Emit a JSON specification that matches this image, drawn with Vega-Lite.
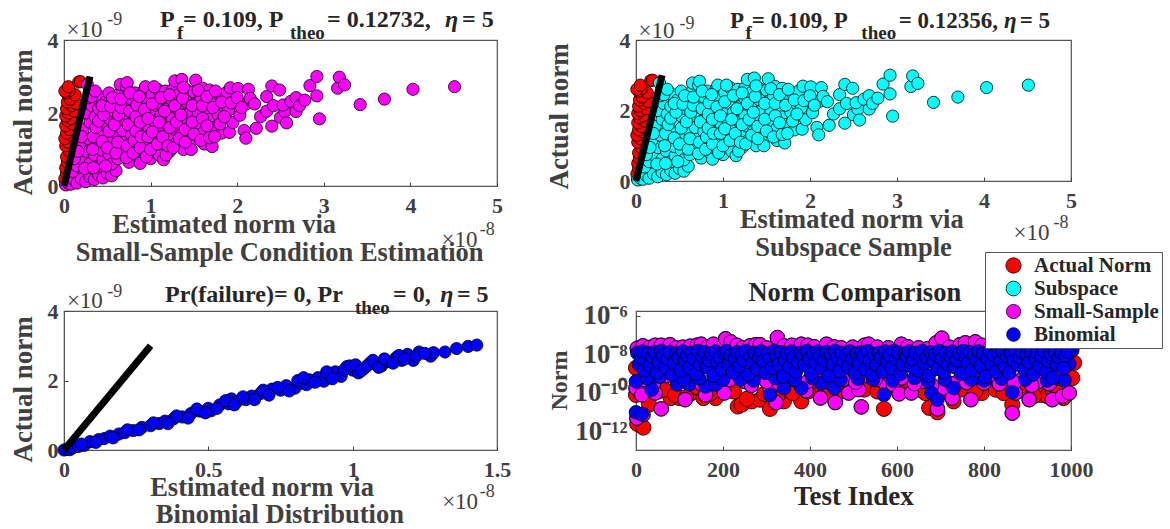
{"$schema":"https://vega.github.io/schema/vega-lite/v6.json","autosize":"none","padding":{"left":64,"top":40,"right":1106,"bottom":489},"background":"white",
"config":{"view":{"stroke":"#555555","strokeWidth":1.2},"axis":{"grid":false,"labelFont":"Liberation Serif","labelFontWeight":"bold","labelFontSize":22,"labelColor":"#404040","tickColor":"#404040","tickSize":-4,"labelFlush":false,"domainColor":"#555555","titleFont":"Liberation Serif","titleFontWeight":"bold","titleFontSize":27,"titleColor":"#404040","labelOverlap":false},"axisX":{"labelPadding":13},"axisY":{"labelPadding":10,"titleAlign":"center"},"text":{"font":"Liberation Serif","fontWeight":"bold","align":"left","baseline":"middle","fontSize":24,"color":"#262626"},"point":{"filled":true,"opacity":1}},
"datasets":{
"red":[{"x":0.02,"y":0.05},{"x":0.01,"y":0.2},{"x":0.03,"y":0.35},{"x":0.02,"y":0.5},{"x":0.04,"y":0.65},{"x":0.03,"y":0.8},{"x":0.06,"y":0.95},{"x":0.02,"y":1.1},{"x":0.05,"y":1.2},{"x":0.01,"y":1.3},{"x":0.08,"y":1.4},{"x":0.03,"y":1.45},{"x":0.06,"y":1.55},{"x":0.02,"y":1.65},{"x":0.1,"y":1.7},{"x":0.04,"y":1.8},{"x":0.08,"y":1.85},{"x":0.02,"y":1.92},{"x":0.05,"y":2.0},{"x":0.12,"y":2.05},{"x":0.03,"y":2.12},{"x":0.09,"y":2.2},{"x":0.14,"y":2.26},{"x":0.04,"y":2.3},{"x":0.07,"y":2.38},{"x":0.13,"y":2.5},{"x":0.03,"y":2.55},{"x":0.06,"y":2.62},{"x":0.01,"y":2.6},{"x":0.05,"y":2.72},{"x":0.17,"y":2.85},{"x":0.19,"y":2.86}],
"small":[{"x":0.02,"y":0.03},{"x":0.05,"y":0.08},{"x":0.08,"y":0.05},{"x":0.12,"y":0.15},{"x":0.15,"y":0.08},{"x":0.2,"y":0.2},{"x":0.25,"y":0.12},{"x":0.3,"y":0.25},{"x":0.35,"y":0.18},{"x":0.4,"y":0.3},{"x":0.45,"y":0.22},{"x":0.5,"y":0.35},{"x":0.55,"y":0.28},{"x":0.6,"y":0.42},{"x":0.1,"y":0.4},{"x":0.15,"y":0.55},{"x":0.2,"y":0.75},{"x":0.25,"y":0.95},{"x":0.3,"y":0.62},{"x":0.35,"y":0.85},{"x":0.4,"y":0.55},{"x":0.45,"y":0.72},{"x":0.18,"y":1.15},{"x":0.28,"y":1.3},{"x":0.22,"y":1.55},{"x":0.3,"y":1.75},{"x":0.25,"y":2.0},{"x":0.32,"y":2.2},{"x":0.28,"y":2.42},{"x":0.3,"y":2.6},{"x":0.27,"y":2.78},{"x":0.38,"y":1.1},{"x":0.42,"y":1.45},{"x":0.36,"y":1.9},{"x":0.4,"y":2.12},{"x":0.42,"y":2.45},{"x":0.44,"y":0.98},{"x":0.5,"y":1.25},{"x":0.52,"y":0.88},{"x":0.47,"y":1.68},{"x":0.52,"y":1.85},{"x":0.48,"y":2.3},{"x":0.52,"y":2.55},{"x":0.55,"y":0.6},{"x":0.58,"y":1.05},{"x":0.6,"y":1.45},{"x":0.57,"y":2.05},{"x":0.6,"y":2.32},{"x":0.62,"y":0.75},{"x":0.65,"y":1.7},{"x":0.63,"y":2.5},{"x":0.65,"y":2.78},{"x":0.68,"y":0.95},{"x":0.7,"y":1.25},{"x":0.68,"y":1.52},{"x":0.72,"y":1.95},{"x":0.7,"y":2.2},{"x":0.72,"y":2.72},{"x":0.73,"y":2.83},{"x":0.75,"y":0.65},{"x":0.78,"y":1.05},{"x":0.78,"y":1.4},{"x":0.8,"y":1.78},{"x":0.78,"y":2.38},{"x":0.82,"y":2.55},{"x":0.84,"y":0.82},{"x":0.85,"y":1.2},{"x":0.85,"y":1.6},{"x":0.87,"y":2.05},{"x":0.88,"y":0.62},{"x":0.9,"y":2.3},{"x":0.92,"y":0.95},{"x":0.93,"y":1.4},{"x":0.92,"y":1.78},{"x":0.92,"y":2.6},{"x":0.94,"y":2.72},{"x":0.95,"y":2.35},{"x":0.97,"y":1.15},{"x":0.98,"y":1.6},{"x":1.0,"y":2.0},{"x":1.0,"y":0.75},{"x":1.02,"y":2.5},{"x":1.05,"y":1.0},{"x":1.05,"y":1.3},{"x":1.05,"y":1.75},{"x":1.07,"y":2.2},{"x":1.08,"y":2.65},{"x":1.1,"y":1.5},{"x":1.1,"y":0.85},{"x":1.12,"y":1.95},{"x":1.15,"y":1.15},{"x":1.15,"y":0.72},{"x":1.15,"y":2.4},{"x":1.17,"y":2.6},{"x":1.18,"y":1.7},{"x":1.2,"y":1.38},{"x":1.2,"y":2.12},{"x":1.22,"y":0.95},{"x":1.25,"y":1.85},{"x":1.25,"y":2.35},{"x":1.25,"y":2.63},{"x":1.28,"y":1.55},{"x":1.28,"y":2.88},{"x":1.3,"y":1.18},{"x":1.32,"y":2.1},{"x":1.32,"y":2.5},{"x":1.36,"y":2.92},{"x":1.35,"y":1.4},{"x":1.38,"y":1.78},{"x":1.38,"y":1.0},{"x":1.42,"y":2.3},{"x":1.42,"y":2.62},{"x":1.45,"y":1.55},{"x":1.45,"y":2.0},{"x":1.47,"y":1.25},{"x":1.47,"y":1.0},{"x":1.5,"y":2.58},{"x":1.52,"y":2.9},{"x":1.52,"y":2.25},{"x":1.55,"y":1.72},{"x":1.55,"y":1.35},{"x":1.55,"y":1.95},{"x":1.58,"y":2.4},{"x":1.6,"y":2.68},{"x":1.62,"y":1.5},{"x":1.62,"y":1.15},{"x":1.65,"y":2.1},{"x":1.68,"y":2.63},{"x":1.68,"y":1.82},{"x":1.7,"y":2.35},{"x":1.71,"y":1.08},{"x":1.74,"y":1.61},{"x":1.78,"y":1.95},{"x":1.8,"y":2.48},{"x":1.82,"y":1.45},{"x":1.85,"y":2.18},{"x":1.87,"y":2.55},{"x":1.9,"y":2.08},{"x":1.92,"y":2.69},{"x":1.91,"y":1.47},{"x":1.95,"y":1.74},{"x":2.01,"y":2.67},{"x":2.03,"y":1.94},{"x":2.08,"y":1.52},{"x":2.1,"y":1.31},{"x":2.11,"y":2.26},{"x":2.13,"y":2.65},{"x":2.15,"y":2.4},{"x":2.22,"y":1.58},{"x":2.2,"y":2.25},{"x":2.27,"y":1.9},{"x":2.34,"y":2.05},{"x":2.34,"y":2.45},{"x":2.4,"y":2.74},{"x":2.4,"y":1.64},{"x":2.42,"y":2.2},{"x":2.49,"y":2.63},{"x":2.5,"y":1.88},{"x":2.55,"y":2.04},{"x":2.53,"y":2.22},{"x":2.57,"y":1.73},{"x":2.62,"y":2.32},{"x":2.68,"y":2.42},{"x":2.68,"y":2.04},{"x":2.72,"y":2.2},{"x":2.78,"y":2.35},{"x":2.84,"y":2.75},{"x":2.92,"y":2.47},{"x":2.92,"y":3.0},{"x":2.95,"y":1.84},{"x":3.16,"y":2.68},{"x":3.18,"y":2.98},{"x":3.24,"y":2.77},{"x":3.42,"y":2.23},{"x":3.7,"y":2.38},{"x":4.03,"y":2.65},{"x":4.51,"y":2.72},
{"x":0.12,"y":0.75},{"x":0.16,"y":0.95},{"x":0.24,"y":0.48},{"x":0.34,"y":0.5},{"x":0.2,"y":1.35},{"x":0.33,"y":1.0},{"x":0.34,"y":1.35},{"x":0.37,"y":1.6},{"x":0.32,"y":2.45},{"x":0.36,"y":2.6},{"x":0.4,"y":1.78},{"x":0.44,"y":1.22},{"x":0.46,"y":1.95},{"x":0.44,"y":2.2},{"x":0.48,"y":0.55},{"x":0.52,"y":1.5},{"x":0.5,"y":1.05},{"x":0.54,"y":2.18},{"x":0.56,"y":2.42},{"x":0.58,"y":1.68},{"x":0.6,"y":0.9},{"x":0.62,"y":1.2},{"x":0.63,"y":1.95},{"x":0.66,"y":2.15},{"x":0.66,"y":2.38},{"x":0.72,"y":0.78},{"x":0.73,"y":1.1},{"x":0.74,"y":1.68},{"x":0.76,"y":2.05},{"x":0.76,"y":2.55},{"x":0.8,"y":0.9},{"x":0.81,"y":1.25},{"x":0.83,"y":1.5},{"x":0.83,"y":1.9},{"x":0.84,"y":2.22},{"x":0.88,"y":1.05},{"x":0.89,"y":1.35},{"x":0.88,"y":1.75},{"x":0.87,"y":2.45},{"x":0.93,"y":2.1},{"x":0.95,"y":0.8},{"x":0.97,"y":1.35},{"x":0.97,"y":1.85},{"x":1.0,"y":1.0},{"x":1.02,"y":1.48},{"x":1.02,"y":2.25},{"x":1.04,"y":2.72},{"x":1.08,"y":1.15},{"x":1.1,"y":1.75},{"x":1.12,"y":2.42},{"x":1.14,"y":1.35},{"x":1.16,"y":2.05},{"x":1.18,"y":0.85},{"x":1.2,"y":1.1},{"x":1.22,"y":1.6},{"x":1.22,"y":2.5},{"x":1.26,"y":1.05},{"x":1.28,"y":2.2},{"x":1.3,"y":1.75},{"x":1.33,"y":1.3},{"x":1.35,"y":1.95},{"x":1.37,"y":2.4},{"x":1.38,"y":2.7},{"x":1.4,"y":1.2},{"x":1.4,"y":1.55},{"x":1.48,"y":1.75},{"x":1.48,"y":2.2},{"x":1.5,"y":1.42},{"x":1.55,"y":2.62},{"x":1.58,"y":1.25},{"x":1.6,"y":1.85},{"x":1.6,"y":2.2},{"x":1.65,"y":1.65},{"x":1.65,"y":2.45},{"x":1.68,"y":1.32},{"x":1.72,"y":2.15},{"x":1.74,"y":1.35},{"x":1.75,"y":2.6},{"x":1.8,"y":1.7},{"x":1.82,"y":2.3},{"x":1.85,"y":1.9},{"x":1.93,"y":2.28},{"x":2.0,"y":2.42},{"x":2.05,"y":2.15}],
"binom":[{"x":0.0,"y":0.0},{"x":0.01,"y":0.02},{"x":0.02,"y":0.01},{"x":0.03,"y":0.06},{"x":0.05,"y":0.1},{"x":0.07,"y":0.13},{"x":0.09,"y":0.24},{"x":0.12,"y":0.3},{"x":0.14,"y":0.33},{"x":0.16,"y":0.4},{"x":0.19,"y":0.46},{"x":0.21,"y":0.5},{"x":0.24,"y":0.56},{"x":0.27,"y":0.65},{"x":0.3,"y":0.7},{"x":0.33,"y":0.76},{"x":0.35,"y":0.83},{"x":0.38,"y":0.9},{"x":0.41,"y":0.95},{"x":0.44,"y":1.05},{"x":0.47,"y":1.12},{"x":0.5,"y":1.2},{"x":0.51,"y":1.13},{"x":0.54,"y":1.3},{"x":0.57,"y":1.33},{"x":0.58,"y":1.47},{"x":0.6,"y":1.4},{"x":0.63,"y":1.45},{"x":0.65,"y":1.55},{"x":0.68,"y":1.62},{"x":0.7,"y":1.67},{"x":0.72,"y":1.75},{"x":0.75,"y":1.72},{"x":0.77,"y":1.85},{"x":0.8,"y":1.78},{"x":0.82,"y":1.92},{"x":0.84,"y":1.88},{"x":0.85,"y":2.02},{"x":0.88,"y":2.08},{"x":0.9,"y":1.98},{"x":0.92,"y":2.15},{"x":0.94,"y":2.25},{"x":0.96,"y":2.12},{"x":0.98,"y":2.4},{"x":1.0,"y":2.3},{"x":1.02,"y":2.22},{"x":1.04,"y":2.35},{"x":1.06,"y":2.5},{"x":1.08,"y":2.48},{"x":1.1,"y":2.42},{"x":1.12,"y":2.55},{"x":1.15,"y":2.65},{"x":1.17,"y":2.58},{"x":1.19,"y":2.75},{"x":1.21,"y":2.58},{"x":1.23,"y":2.82},{"x":1.27,"y":2.7},{"x":1.28,"y":2.8},{"x":1.32,"y":2.82},{"x":1.36,"y":2.92},{"x":1.4,"y":2.98},{"x":1.43,"y":3.02},
{"x":0.06,"y":0.17},{"x":0.11,"y":0.22},{"x":0.17,"y":0.35},{"x":0.22,"y":0.58},{"x":0.26,"y":0.58},{"x":0.31,"y":0.78},{"x":0.36,"y":0.76},{"x":0.39,"y":0.98},{"x":0.43,"y":0.92},{"x":0.46,"y":1.18},{"x":0.49,"y":1.07},{"x":0.53,"y":1.2},{"x":0.56,"y":1.42},{"x":0.59,"y":1.3},{"x":0.62,"y":1.53},{"x":0.66,"y":1.45},{"x":0.69,"y":1.72},{"x":0.71,"y":1.58},{"x":0.74,"y":1.8},{"x":0.78,"y":1.7},{"x":0.81,"y":2.0},{"x":0.83,"y":2.08},{"x":0.87,"y":1.95},{"x":0.91,"y":2.25},{"x":0.93,"y":2.05},{"x":0.97,"y":2.3},{"x":0.99,"y":2.42},{"x":1.01,"y":2.45},{"x":1.03,"y":2.28},{"x":1.05,"y":2.42},{"x":1.07,"y":2.58},{"x":1.09,"y":2.38},{"x":1.11,"y":2.62},{"x":1.14,"y":2.5},{"x":1.16,"y":2.72},{"x":1.18,"y":2.62},{"x":1.22,"y":2.7},{"x":1.25,"y":2.78}],
"line":[{"x":0,"y":0},{"x":0.3,"y":3}],
"actual":[{"i":0,"v":2e-9},{"i":0,"v":8e-11},{"i":3,"v":2.5e-12},{"i":17,"v":1.6e-12},{"i":30,"v":2.5e-11},{"i":52,"v":1.2e-10},{"i":80,"v":5.5e-11},{"i":100,"v":5.5e-11},{"i":127,"v":1e-10},{"i":155,"v":5.5e-11},{"i":183,"v":5.5e-11},{"i":210,"v":2e-10},{"i":234,"v":2e-11},{"i":243,"v":2.5e-11},{"i":266,"v":3.7e-11},{"i":285,"v":4.5e-11},{"i":308,"v":1.5e-11},{"i":340,"v":3.7e-11},{"i":380,"v":3.7e-11},{"i":410,"v":2e-10},{"i":456,"v":5.5e-11},{"i":500,"v":2e-10},{"i":540,"v":2.8e-10},{"i":570,"v":1.5e-11},{"i":620,"v":2e-10},{"i":650,"v":1.5e-10},{"i":674,"v":1.7e-11},{"i":693,"v":1e-11},{"i":730,"v":3.7e-11},{"i":760,"v":2e-10},{"i":795,"v":1e-10},{"i":827,"v":1.5e-10},{"i":865,"v":2.5e-11},{"i":902,"v":1.5e-10},{"i":930,"v":8e-11},{"i":945,"v":7e-11},{"i":957,"v":1.5e-10},{"i":983,"v":5.5e-11},{"i":1003,"v":6e-10},{"i":1007,"v":3.7e-9},{"i":65,"v":1.5e-10},{"i":90,"v":8e-11},{"i":115,"v":6e-11},{"i":140,"v":2e-10},{"i":170,"v":9e-11},{"i":225,"v":1.2e-10},{"i":255,"v":5e-11},{"i":295,"v":9e-11},{"i":325,"v":7e-11},{"i":360,"v":1e-10},{"i":395,"v":1.2e-10},{"i":440,"v":9e-11},{"i":470,"v":1.2e-10},{"i":525,"v":1.5e-10},{"i":555,"v":1.2e-10},{"i":600,"v":1.5e-10},{"i":665,"v":1e-10},{"i":710,"v":1.2e-10},{"i":745,"v":1.5e-10},{"i":780,"v":1.2e-10},{"i":845,"v":1e-10},{"i":880,"v":1.3e-10},{"i":915,"v":7e-11},{"i":970,"v":1e-10}],
"sm":[{"i":0,"v":1.8e-10},{"i":2,"v":5e-12},{"i":16,"v":7.5e-12},{"i":13,"v":8e-11},{"i":44,"v":1e-10},{"i":58,"v":1.5e-11},{"i":30,"v":3.3e-10},{"i":113,"v":4.5e-11},{"i":160,"v":8e-11},{"i":203,"v":1e-10},{"i":234,"v":6.3e-10},{"i":322,"v":3.2e-11},{"i":308,"v":1.8e-10},{"i":391,"v":1.3e-10},{"i":424,"v":5.5e-11},{"i":458,"v":3.2e-11},{"i":489,"v":1e-10},{"i":512,"v":1.5e-10},{"i":518,"v":1.9e-11},{"i":568,"v":4e-10},{"i":591,"v":2.8e-10},{"i":605,"v":9e-11},{"i":633,"v":1e-10},{"i":693,"v":1.5e-11},{"i":707,"v":1.8e-10},{"i":727,"v":5.5e-11},{"i":770,"v":4.5e-11},{"i":800,"v":3.3e-10},{"i":865,"v":9e-12},{"i":872,"v":1e-10},{"i":904,"v":4.5e-11},{"i":957,"v":4.5e-11},{"i":980,"v":6.8e-11},{"i":996,"v":1e-10},{"i":20,"v":5e-10},{"i":70,"v":8e-10},{"i":130,"v":6e-10},{"i":185,"v":1.2e-9},{"i":250,"v":4e-10},{"i":275,"v":7e-10},{"i":350,"v":9e-10},{"i":365,"v":5e-10},{"i":430,"v":7e-10},{"i":475,"v":5e-10},{"i":530,"v":8e-10},{"i":610,"v":6e-10},{"i":660,"v":4e-10},{"i":745,"v":5e-10},{"i":780,"v":7e-10},{"i":820,"v":9e-10},{"i":850,"v":5e-10},{"i":890,"v":6e-10},{"i":925,"v":4e-10},{"i":970,"v":7e-10},{"i":40,"v":3e-10},{"i":95,"v":4e-10},{"i":150,"v":3e-10},{"i":215,"v":5e-10},{"i":265,"v":2.5e-10},{"i":300,"v":4e-10},{"i":330,"v":3e-10},{"i":395,"v":4e-10},{"i":450,"v":3e-10},{"i":505,"v":3.5e-10},{"i":550,"v":5e-10},{"i":585,"v":7e-10},{"i":640,"v":3e-10},{"i":680,"v":2.5e-10},{"i":725,"v":3e-10},{"i":760,"v":3.5e-10},{"i":835,"v":3e-10},{"i":870,"v":3.5e-10},{"i":910,"v":2.5e-10},{"i":950,"v":3e-10},{"i":3,"v":2.1e-8},{"i":16,"v":2.8e-8},{"i":30,"v":2.3e-8},{"i":44,"v":3e-8},{"i":58,"v":3e-8},{"i":78,"v":3.2e-8},{"i":92,"v":2.2e-8},{"i":108,"v":2.4e-8},{"i":125,"v":2.7e-8},{"i":140,"v":3e-8},{"i":150,"v":3.4e-8},{"i":165,"v":2.5e-8},{"i":178,"v":3.4e-8},{"i":193,"v":2.2e-8},{"i":206,"v":6.5e-8},{"i":218,"v":4.5e-8},{"i":232,"v":3e-8},{"i":245,"v":2.2e-8},{"i":262,"v":2.8e-8},{"i":275,"v":3.2e-8},{"i":285,"v":3.2e-8},{"i":300,"v":2.2e-8},{"i":325,"v":7.5e-8},{"i":340,"v":2.8e-8},{"i":358,"v":3e-8},{"i":380,"v":3.4e-8},{"i":395,"v":3e-8},{"i":410,"v":2.5e-8},{"i":438,"v":3.4e-8},{"i":455,"v":2.5e-8},{"i":472,"v":2.2e-8},{"i":498,"v":2.4e-8},{"i":525,"v":3e-8},{"i":535,"v":3.4e-8},{"i":555,"v":2.4e-8},{"i":580,"v":2.2e-8},{"i":610,"v":3.4e-8},{"i":625,"v":2.5e-8},{"i":650,"v":2.2e-8},{"i":670,"v":2e-8},{"i":690,"v":4e-8},{"i":703,"v":7e-8},{"i":720,"v":2.4e-8},{"i":745,"v":3.2e-8},{"i":757,"v":4e-8},{"i":780,"v":4.5e-8},{"i":795,"v":3e-8},{"i":815,"v":2.5e-8},{"i":835,"v":2.8e-8},{"i":860,"v":2.4e-8},{"i":885,"v":2.2e-8},{"i":915,"v":2.5e-8},{"i":940,"v":2.8e-8},{"i":965,"v":2.4e-8},{"i":985,"v":2e-8},{"i":1000,"v":1.6e-8}],
"bin":[{"i":0,"v":4e-10},{"i":0,"v":1e-11},{"i":13,"v":8e-12},{"i":34,"v":5e-10},{"i":36,"v":1.5e-10},{"i":95,"v":2.8e-10},{"i":122,"v":2.8e-10},{"i":160,"v":2.2e-10},{"i":183,"v":2.8e-10},{"i":308,"v":8e-11},{"i":340,"v":1.8e-10},{"i":380,"v":1.8e-10},{"i":426,"v":3.2e-10},{"i":456,"v":1.8e-10},{"i":570,"v":8e-11},{"i":679,"v":1e-10},{"i":693,"v":4.5e-11},{"i":730,"v":1.8e-10},{"i":865,"v":1.1e-10},{"i":985,"v":4.6e-10},{"i":996,"v":3.2e-9},{"i":1003,"v":1.7e-8},{"i":25,"v":6e-10},{"i":55,"v":7e-10},{"i":110,"v":5e-10},{"i":145,"v":6e-10},{"i":200,"v":5e-10},{"i":240,"v":5e-10},{"i":270,"v":4.5e-10},{"i":320,"v":6e-10},{"i":365,"v":5e-10},{"i":405,"v":6e-10},{"i":470,"v":5e-10},{"i":510,"v":5.5e-10},{"i":545,"v":5e-10},{"i":590,"v":4.5e-10},{"i":640,"v":6e-10},{"i":672,"v":4e-10},{"i":710,"v":5e-10},{"i":770,"v":5e-10},{"i":800,"v":4.5e-10},{"i":840,"v":5.5e-10},{"i":895,"v":5e-10},{"i":945,"v":4.5e-10},{"i":3,"v":1.2e-8},{"i":7,"v":3e-9},{"i":11,"v":7e-9},{"i":15,"v":1.4e-8},{"i":19,"v":1.5e-9},{"i":23,"v":5e-9},{"i":28,"v":1.1e-8},{"i":33,"v":2.5e-9},{"i":38,"v":8e-9},{"i":43,"v":1.3e-8},{"i":48,"v":1.2e-9},{"i":53,"v":4e-9},{"i":58,"v":1.5e-8},{"i":63,"v":9e-9},{"i":68,"v":2e-9},{"i":73,"v":6e-9},{"i":78,"v":1.3e-8},{"i":83,"v":9e-10},{"i":88,"v":3.5e-9},{"i":93,"v":1.1e-8},{"i":98,"v":7e-9},{"i":103,"v":1.5e-9},{"i":108,"v":1.4e-8},{"i":113,"v":4.5e-9},{"i":118,"v":9e-9},{"i":123,"v":2e-9},{"i":128,"v":1.2e-8},{"i":133,"v":6e-9},{"i":138,"v":1e-9},{"i":143,"v":1.5e-8},{"i":148,"v":3e-9},{"i":153,"v":8e-9},{"i":158,"v":1.3e-8},{"i":163,"v":2.2e-9},{"i":168,"v":5e-9},{"i":173,"v":1.1e-8},{"i":178,"v":8e-10},{"i":183,"v":1.4e-8},{"i":188,"v":4e-9},{"i":193,"v":7e-9},{"i":198,"v":1.7e-9},{"i":203,"v":1.2e-8},{"i":208,"v":1.5e-8},{"i":213,"v":3e-9},{"i":218,"v":9e-9},{"i":223,"v":1.2e-9},{"i":228,"v":6e-9},{"i":233,"v":1.3e-8},{"i":238,"v":2.5e-9},{"i":243,"v":1e-8},{"i":248,"v":5e-9},{"i":253,"v":1.5e-8},{"i":258,"v":9e-10},{"i":263,"v":8e-9},{"i":268,"v":3.5e-9},{"i":273,"v":1.2e-8},{"i":278,"v":1.8e-9},{"i":283,"v":7e-9},{"i":288,"v":1.4e-8},{"i":293,"v":4.5e-9},{"i":298,"v":1.1e-9},{"i":303,"v":1.1e-8},{"i":308,"v":6e-9},{"i":313,"v":2e-9},{"i":318,"v":1.5e-8},{"i":323,"v":9e-9},{"i":328,"v":3e-9},{"i":333,"v":1.3e-8},{"i":338,"v":7e-10},{"i":343,"v":5e-9},{"i":348,"v":1.1e-8},{"i":353,"v":2.2e-9},{"i":358,"v":1.4e-8},{"i":363,"v":7e-9},{"i":368,"v":1.3e-9},{"i":373,"v":4e-9},{"i":378,"v":1.2e-8},{"i":383,"v":9e-9},{"i":388,"v":2.8e-9},{"i":393,"v":1.5e-8},{"i":398,"v":6e-9},{"i":403,"v":1e-9},{"i":408,"v":1.1e-8},{"i":413,"v":3.5e-9},{"i":418,"v":1.4e-8},{"i":423,"v":8e-9},{"i":428,"v":1.9e-9},{"i":433,"v":5e-9},{"i":438,"v":1.3e-8},{"i":443,"v":8e-10},{"i":448,"v":1e-8},{"i":453,"v":3e-9},{"i":458,"v":1.5e-8},{"i":463,"v":7e-9},{"i":468,"v":1.4e-9},{"i":473,"v":1.2e-8},{"i":478,"v":4.5e-9},{"i":483,"v":9e-9},{"i":488,"v":2.2e-9},{"i":493,"v":1.4e-8},{"i":498,"v":6e-9},{"i":503,"v":1.1e-9},{"i":508,"v":1.1e-8},{"i":513,"v":3.5e-9},{"i":518,"v":1.3e-8},{"i":523,"v":8e-9},{"i":528,"v":1.7e-9},{"i":533,"v":1.5e-8},{"i":538,"v":5e-9},{"i":543,"v":9e-10},{"i":548,"v":1e-8},{"i":553,"v":2.8e-9},{"i":558,"v":1.2e-8},{"i":563,"v":7e-9},{"i":568,"v":1.3e-9},{"i":573,"v":1.4e-8},{"i":578,"v":4e-9},{"i":583,"v":9e-9},{"i":588,"v":2e-9},{"i":593,"v":1.5e-8},{"i":598,"v":6e-9},{"i":603,"v":1.2e-8},{"i":608,"v":1e-9},{"i":613,"v":3e-9},{"i":618,"v":1.1e-8},{"i":623,"v":8e-9},{"i":628,"v":1.4e-8},{"i":633,"v":2.4e-9},{"i":638,"v":5e-9},{"i":643,"v":1.2e-8},{"i":648,"v":1.5e-9},{"i":653,"v":9e-9},{"i":658,"v":1.5e-8},{"i":663,"v":3.5e-9},{"i":668,"v":7e-9},{"i":673,"v":8e-10},{"i":678,"v":1.3e-8},{"i":683,"v":4.5e-9},{"i":688,"v":1e-8},{"i":693,"v":1.8e-9},{"i":698,"v":1.5e-8},{"i":703,"v":6e-9},{"i":708,"v":1.2e-9},{"i":713,"v":1.2e-8},{"i":718,"v":3e-9},{"i":723,"v":8e-9},{"i":728,"v":1.4e-8},{"i":733,"v":2.2e-9},{"i":738,"v":5e-9},{"i":743,"v":1.1e-8},{"i":748,"v":1e-9},{"i":753,"v":1.5e-8},{"i":758,"v":7e-9},{"i":763,"v":3.5e-9},{"i":768,"v":1.3e-8},{"i":773,"v":1.5e-9},{"i":778,"v":9e-9},{"i":783,"v":5e-9},{"i":788,"v":1.4e-8},{"i":793,"v":2.5e-9},{"i":798,"v":1.1e-8},{"i":803,"v":7e-10},{"i":808,"v":6e-9},{"i":813,"v":1.5e-8},{"i":818,"v":3e-9},{"i":823,"v":9e-9},{"i":828,"v":1.3e-9},{"i":833,"v":1.2e-8},{"i":838,"v":4.5e-9},{"i":843,"v":1.4e-8},{"i":848,"v":2e-9},{"i":853,"v":8e-9},{"i":858,"v":1.1e-9},{"i":863,"v":1.1e-8},{"i":868,"v":5e-9},{"i":873,"v":1.5e-8},{"i":878,"v":3e-9},{"i":883,"v":7e-9},{"i":888,"v":1.3e-8},{"i":893,"v":1.7e-9},{"i":898,"v":1e-8},{"i":903,"v":4e-9},{"i":908,"v":1.4e-8},{"i":913,"v":9e-10},{"i":918,"v":6e-9},{"i":923,"v":1.2e-8},{"i":928,"v":2.5e-9},{"i":933,"v":8e-9},{"i":938,"v":1.5e-8},{"i":943,"v":1.3e-9},{"i":948,"v":4.5e-9},{"i":953,"v":1.1e-8},{"i":958,"v":6e-10},{"i":963,"v":1.4e-8},{"i":968,"v":3e-9},{"i":973,"v":7e-9},{"i":978,"v":1.2e-8},{"i":983,"v":1.9e-9},{"i":988,"v":9e-9},{"i":993,"v":1.4e-8}]
},
"spacing":271,"bounds":"flush",
"vconcat":[
{"spacing":139,"bounds":"flush","hconcat":[
{"width":433,"height":146,"layer":[
{"data":{"name":"red"},"mark":{"type":"point","size":150,"stroke":"#000","strokeWidth":0.8,"fill":"#ff0000"},"encoding":{"x":{"field":"x","type":"quantitative","scale":{"domain":[0,5]},"axis":{"values":[0,1,2,3,4,5],"format":"d","title":null}},"y":{"field":"y","type":"quantitative","scale":{"domain":[0,4]},"axis":{"values":[0,2,4],"format":"d","title":"Actual norm","titleX":-27,"titleY":82}}}},
{"data":{"name":"small"},"mark":{"type":"point","size":150,"stroke":"#000","strokeWidth":0.8,"fill":"#ff00ff"},"encoding":{"x":{"field":"x","type":"quantitative","scale":{"domain":[0,5]}},"y":{"field":"y","type":"quantitative","scale":{"domain":[0,4]}}}},
{"data":{"name":"line"},"mark":{"type":"line","stroke":"#000","strokeWidth":7},"encoding":{"x":{"field":"x","type":"quantitative","scale":{"domain":[0,5]}},"y":{"field":"y","type":"quantitative","scale":{"domain":[0,4]}}}},
{"data":{"values":[{}]},"mark":{"type":"text"},"encoding":{"x":{"datum":1.109,"scale":{"domain":[0,5]}},"y":{"datum":4.55,"scale":{"domain":[0,4]}},"text":{"value":"P"}}},
{"data":{"values":[{}]},"mark":{"type":"text","fontSize":19},"encoding":{"x":{"datum":1.305,"scale":{"domain":[0,5]}},"y":{"datum":4.19,"scale":{"domain":[0,4]}},"text":{"value":"f"}}},
{"data":{"values":[{}]},"mark":{"type":"text"},"encoding":{"x":{"datum":1.374,"scale":{"domain":[0,5]}},"y":{"datum":4.55,"scale":{"domain":[0,4]}},"text":{"value":"= 0.109, P"}}},
{"data":{"values":[{}]},"mark":{"type":"text","fontSize":19},"encoding":{"x":{"datum":2.61,"scale":{"domain":[0,5]}},"y":{"datum":4.19,"scale":{"domain":[0,4]}},"text":{"value":"theo"}}},
{"data":{"values":[{}]},"mark":{"type":"text"},"encoding":{"x":{"datum":3.037,"scale":{"domain":[0,5]}},"y":{"datum":4.55,"scale":{"domain":[0,4]}},"text":{"value":"= 0.12732,"}}},
{"data":{"values":[{}]},"mark":{"type":"text","fontStyle":"italic"},"encoding":{"x":{"datum":4.4,"scale":{"domain":[0,5]}},"y":{"datum":4.55,"scale":{"domain":[0,4]}},"text":{"value":"η"}}},
{"data":{"values":[{}]},"mark":{"type":"text"},"encoding":{"x":{"datum":4.596,"scale":{"domain":[0,5]}},"y":{"datum":4.55,"scale":{"domain":[0,4]}},"text":{"value":"= 5"}}},
{"data":{"values":[{}]},"mark":{"type":"text","fontWeight":"normal","color":"#404040","fontSize":23},"encoding":{"x":{"datum":0.03,"scale":{"domain":[0,5]}},"y":{"datum":4.27,"scale":{"domain":[0,4]}},"text":{"value":"×10"}}},
{"data":{"values":[{}]},"mark":{"type":"text","fontWeight":"normal","color":"#404040","fontSize":18},"encoding":{"x":{"datum":0.5,"scale":{"domain":[0,5]}},"y":{"datum":4.55,"scale":{"domain":[0,4]}},"text":{"value":"-9"}}},
{"data":{"values":[{}]},"mark":{"type":"text","fontWeight":"normal","color":"#404040","fontSize":23},"encoding":{"x":{"datum":4.36,"scale":{"domain":[0,5]}},"y":{"datum":-1.48,"scale":{"domain":[0,4]}},"text":{"value":"×10"}}},
{"data":{"values":[{}]},"mark":{"type":"text","fontWeight":"normal","color":"#404040","fontSize":18},"encoding":{"x":{"datum":4.8,"scale":{"domain":[0,5]}},"y":{"datum":-1.2,"scale":{"domain":[0,4]}},"text":{"value":"-8"}}},
{"data":{"values":[{}]},"mark":{"type":"text","align":"center","color":"#404040","fontSize":26.5},"encoding":{"x":{"datum":1.85,"scale":{"domain":[0,5]}},"y":{"datum":-1.07,"scale":{"domain":[0,4]}},"text":{"value":"Estimated norm via"}}},
{"data":{"values":[{}]},"mark":{"type":"text","align":"center","color":"#404040","fontSize":26.5},"encoding":{"x":{"datum":2.49,"scale":{"domain":[0,5]}},"y":{"datum":-1.84,"scale":{"domain":[0,4]}},"text":{"value":"Small-Sample Condition Estimation"}}}
]},
{"width":435,"height":141,"layer":[
{"data":{"name":"red"},"mark":{"type":"point","size":150,"stroke":"#000","strokeWidth":0.8,"fill":"#ff0000"},"encoding":{"x":{"field":"x","type":"quantitative","scale":{"domain":[0,5]},"axis":{"values":[0,1,2,3,4,5],"format":"d","title":null}},"y":{"field":"y","type":"quantitative","scale":{"domain":[0,4]},"axis":{"values":[0,2,4],"format":"d","title":"Actual norm","titleX":-63,"titleY":76}}}},
{"data":{"name":"small"},"mark":{"type":"point","size":150,"stroke":"#000","strokeWidth":0.8,"fill":"#00ffff"},"encoding":{"x":{"field":"x","type":"quantitative","scale":{"domain":[0,5]}},"y":{"field":"y","type":"quantitative","scale":{"domain":[0,4]}}}},
{"data":{"name":"line"},"mark":{"type":"line","stroke":"#000","strokeWidth":7},"encoding":{"x":{"field":"x","type":"quantitative","scale":{"domain":[0,5]}},"y":{"field":"y","type":"quantitative","scale":{"domain":[0,4]}}}},
{"data":{"values":[{}]},"mark":{"type":"text","fontSize":23},"encoding":{"x":{"datum":1.08,"scale":{"domain":[0,5]}},"y":{"datum":4.54,"scale":{"domain":[0,4]}},"text":{"value":"P"}}},
{"data":{"values":[{}]},"mark":{"type":"text","fontSize":19},"encoding":{"x":{"datum":1.26,"scale":{"domain":[0,5]}},"y":{"datum":4.2,"scale":{"domain":[0,4]}},"text":{"value":"f"}}},
{"data":{"values":[{}]},"mark":{"type":"text","fontSize":23},"encoding":{"x":{"datum":1.33,"scale":{"domain":[0,5]}},"y":{"datum":4.54,"scale":{"domain":[0,4]}},"text":{"value":"= 0.109, P"}}},
{"data":{"values":[{}]},"mark":{"type":"text","fontSize":19},"encoding":{"x":{"datum":2.59,"scale":{"domain":[0,5]}},"y":{"datum":4.2,"scale":{"domain":[0,4]}},"text":{"value":"theo"}}},
{"data":{"values":[{}]},"mark":{"type":"text","fontSize":23},"encoding":{"x":{"datum":3.02,"scale":{"domain":[0,5]}},"y":{"datum":4.54,"scale":{"domain":[0,4]}},"text":{"value":"= 0.12356,"}}},
{"data":{"values":[{}]},"mark":{"type":"text","fontStyle":"italic","fontSize":23},"encoding":{"x":{"datum":4.23,"scale":{"domain":[0,5]}},"y":{"datum":4.54,"scale":{"domain":[0,4]}},"text":{"value":"η"}}},
{"data":{"values":[{}]},"mark":{"type":"text","fontSize":23},"encoding":{"x":{"datum":4.41,"scale":{"domain":[0,5]}},"y":{"datum":4.54,"scale":{"domain":[0,4]}},"text":{"value":"= 5"}}},
{"data":{"values":[{}]},"mark":{"type":"text","fontWeight":"normal","color":"#404040","fontSize":23},"encoding":{"x":{"datum":0.03,"scale":{"domain":[0,5]}},"y":{"datum":4.25,"scale":{"domain":[0,4]}},"text":{"value":"×10"}}},
{"data":{"values":[{}]},"mark":{"type":"text","fontWeight":"normal","color":"#404040","fontSize":18},"encoding":{"x":{"datum":0.5,"scale":{"domain":[0,5]}},"y":{"datum":4.45,"scale":{"domain":[0,4]}},"text":{"value":"-9"}}},
{"data":{"values":[{}]},"mark":{"type":"text","fontWeight":"normal","color":"#404040","fontSize":23},"encoding":{"x":{"datum":4.34,"scale":{"domain":[0,5]}},"y":{"datum":-1.48,"scale":{"domain":[0,4]}},"text":{"value":"×10"}}},
{"data":{"values":[{}]},"mark":{"type":"text","fontWeight":"normal","color":"#404040","fontSize":18},"encoding":{"x":{"datum":4.8,"scale":{"domain":[0,5]}},"y":{"datum":-1.2,"scale":{"domain":[0,4]}},"text":{"value":"-8"}}},
{"data":{"values":[{}]},"mark":{"type":"text","align":"center","color":"#404040","fontSize":26.5},"encoding":{"x":{"datum":2.48,"scale":{"domain":[0,5]}},"y":{"datum":-1.11,"scale":{"domain":[0,4]}},"text":{"value":"Estimated norm via"}}},
{"data":{"values":[{}]},"mark":{"type":"text","align":"center","color":"#404040","fontSize":26.5},"encoding":{"x":{"datum":2.5,"scale":{"domain":[0,5]}},"y":{"datum":-1.9,"scale":{"domain":[0,4]}},"text":{"value":"Subspace Sample"}}}
]}
]},
{"spacing":139,"bounds":"flush","hconcat":[
{"width":433,"height":139,"layer":[
{"data":{"name":"binom"},"mark":{"type":"point","size":150,"stroke":"#000","strokeWidth":0.8,"fill":"#0000ff"},"encoding":{"x":{"field":"x","type":"quantitative","scale":{"domain":[0,1.5]},"axis":{"values":[0,0.5,1,1.5],"format":"~g","title":null}},"y":{"field":"y","type":"quantitative","scale":{"domain":[0,4]},"axis":{"values":[0,2,4],"format":"d","title":"Actual norm","titleX":-27,"titleY":78}}}},
{"data":{"name":"line"},"mark":{"type":"line","stroke":"#000","strokeWidth":7},"encoding":{"x":{"field":"x","type":"quantitative","scale":{"domain":[0,1.5]}},"y":{"field":"y","type":"quantitative","scale":{"domain":[0,4]}}}},
{"data":{"values":[{}]},"mark":{"type":"text"},"encoding":{"x":{"datum":0.35,"scale":{"domain":[0,1.5]}},"y":{"datum":4.46,"scale":{"domain":[0,4]}},"text":{"value":"Pr(failure)= 0, Pr"}}},
{"data":{"values":[{}]},"mark":{"type":"text","fontSize":19},"encoding":{"x":{"datum":1.008,"scale":{"domain":[0,1.5]}},"y":{"datum":4.09,"scale":{"domain":[0,4]}},"text":{"value":"theo"}}},
{"data":{"values":[{}]},"mark":{"type":"text"},"encoding":{"x":{"datum":1.14,"scale":{"domain":[0,1.5]}},"y":{"datum":4.46,"scale":{"domain":[0,4]}},"text":{"value":"= 0,"}}},
{"data":{"values":[{}]},"mark":{"type":"text","fontStyle":"italic"},"encoding":{"x":{"datum":1.303,"scale":{"domain":[0,1.5]}},"y":{"datum":4.46,"scale":{"domain":[0,4]}},"text":{"value":"η"}}},
{"data":{"values":[{}]},"mark":{"type":"text"},"encoding":{"x":{"datum":1.361,"scale":{"domain":[0,1.5]}},"y":{"datum":4.46,"scale":{"domain":[0,4]}},"text":{"value":"= 5"}}},
{"data":{"values":[{}]},"mark":{"type":"text","fontWeight":"normal","color":"#404040","fontSize":23},"encoding":{"x":{"datum":0.01,"scale":{"domain":[0,1.5]}},"y":{"datum":4.3,"scale":{"domain":[0,4]}},"text":{"value":"×10"}}},
{"data":{"values":[{}]},"mark":{"type":"text","fontWeight":"normal","color":"#404040","fontSize":18},"encoding":{"x":{"datum":0.15,"scale":{"domain":[0,1.5]}},"y":{"datum":4.55,"scale":{"domain":[0,4]}},"text":{"value":"-9"}}},
{"data":{"values":[{}]},"mark":{"type":"text","fontWeight":"normal","color":"#404040","fontSize":23},"encoding":{"x":{"datum":1.31,"scale":{"domain":[0,1.5]}},"y":{"datum":-1.5,"scale":{"domain":[0,4]}},"text":{"value":"×10"}}},
{"data":{"values":[{}]},"mark":{"type":"text","fontWeight":"normal","color":"#404040","fontSize":18},"encoding":{"x":{"datum":1.44,"scale":{"domain":[0,1.5]}},"y":{"datum":-1.2,"scale":{"domain":[0,4]}},"text":{"value":"-8"}}},
{"data":{"values":[{}]},"mark":{"type":"text","align":"center","color":"#404040","fontSize":26.5},"encoding":{"x":{"datum":0.686,"scale":{"domain":[0,1.5]}},"y":{"datum":-1.09,"scale":{"domain":[0,4]}},"text":{"value":"Estimated norm via"}}},
{"data":{"values":[{}]},"mark":{"type":"text","align":"center","color":"#404040","fontSize":26.5},"encoding":{"x":{"datum":0.748,"scale":{"domain":[0,1.5]}},"y":{"datum":-1.87,"scale":{"domain":[0,4]}},"text":{"value":"Binomial Distribution"}}}
]},
{"width":435,"height":139,"layer":[
{"data":{"name":"actual"},"mark":{"type":"point","stroke":"#000","strokeWidth":0.8},"encoding":{"x":{"field":"i","type":"quantitative","scale":{"domain":[0,1000]},"axis":{"values":[0,200,400,600,800,1000],"format":"d","title":null}},"y":{"field":"v","type":"quantitative","scale":{"type":"log","domain":[1.1e-13,1.8e-6]},"axis":{"values":[1e-12,1e-10,1e-8,1e-6],"title":"Norm","titleFontSize":24,"titleX":-65,"titleY":69,"labelFontSize":27,"labelPadding":13,"labelExpr":"datum.value>5e-7?'10⁻⁶':datum.value>5e-9?'10⁻⁸':datum.value>5e-11?'10⁻¹⁰':'10⁻¹²'"}},"fill":{"datum":"Actual Norm","type":"nominal","scale":{"domain":["Actual Norm","Subspace","Small-Sample","Binomial"],"range":["#ff0000","#00ffff","#ff00ff","#0000ff"]},"legend":{"title":null,"orient":"none","legendX":921,"legendY":212,"fillColor":"white","strokeColor":"#555555","padding":3,"labelFont":"Liberation Serif","labelFontWeight":"bold","labelFontSize":21,"labelColor":"#262626","rowPadding":1,"symbolStrokeColor":"#000","symbolStrokeWidth":0.8,"symbolType":"circle","symbolOffset":15,"labelOffset":10}},"size":{"datum":"Actual Norm","type":"nominal","scale":{"domain":["Actual Norm","Subspace","Small-Sample","Binomial"],"range":[234,187,150,85]}}}},
{"data":{"name":"sm"},"mark":{"type":"point","stroke":"#000","strokeWidth":0.8},"encoding":{"x":{"field":"i","type":"quantitative","scale":{"domain":[0,1000]}},"y":{"field":"v","type":"quantitative","scale":{"type":"log","domain":[1.1e-13,1.8e-6]}},"fill":{"datum":"Subspace","type":"nominal","scale":{"domain":["Actual Norm","Subspace","Small-Sample","Binomial"],"range":["#ff0000","#00ffff","#ff00ff","#0000ff"]}},"size":{"datum":"Subspace","type":"nominal","scale":{"domain":["Actual Norm","Subspace","Small-Sample","Binomial"],"range":[234,187,150,85]}}}},
{"data":{"name":"sm"},"mark":{"type":"point","stroke":"#000","strokeWidth":0.8},"encoding":{"x":{"field":"i","type":"quantitative","scale":{"domain":[0,1000]}},"y":{"field":"v","type":"quantitative","scale":{"type":"log","domain":[1.1e-13,1.8e-6]}},"fill":{"datum":"Small-Sample","type":"nominal","scale":{"domain":["Actual Norm","Subspace","Small-Sample","Binomial"],"range":["#ff0000","#00ffff","#ff00ff","#0000ff"]}},"size":{"datum":"Small-Sample","type":"nominal","scale":{"domain":["Actual Norm","Subspace","Small-Sample","Binomial"],"range":[234,187,150,85]}}}},
{"data":{"name":"bin"},"mark":{"type":"point","stroke":"#000","strokeWidth":0.8},"encoding":{"x":{"field":"i","type":"quantitative","scale":{"domain":[0,1000]}},"y":{"field":"v","type":"quantitative","scale":{"type":"log","domain":[1.1e-13,1.8e-6]}},"fill":{"datum":"Binomial","type":"nominal","scale":{"domain":["Actual Norm","Subspace","Small-Sample","Binomial"],"range":["#ff0000","#00ffff","#ff00ff","#0000ff"]}},"size":{"datum":"Binomial","type":"nominal","scale":{"domain":["Actual Norm","Subspace","Small-Sample","Binomial"],"range":[234,187,150,85]}}}},
{"data":{"values":[{}]},"mark":{"type":"text","align":"center","fontSize":26.5},"encoding":{"x":{"datum":503,"scale":{"domain":[0,1000]}},"y":{"datum":1.6e-5,"scale":{"type":"log","domain":[1.1e-13,1.8e-6]}},"text":{"value":"Norm Comparison"}}},
{"data":{"values":[{}]},"mark":{"type":"text","align":"center","fontSize":27},"encoding":{"x":{"datum":501,"scale":{"domain":[0,1000]}},"y":{"datum":4e-16,"scale":{"type":"log","domain":[1.1e-13,1.8e-6]}},"text":{"value":"Test Index"}}}
]}
]}
]}
